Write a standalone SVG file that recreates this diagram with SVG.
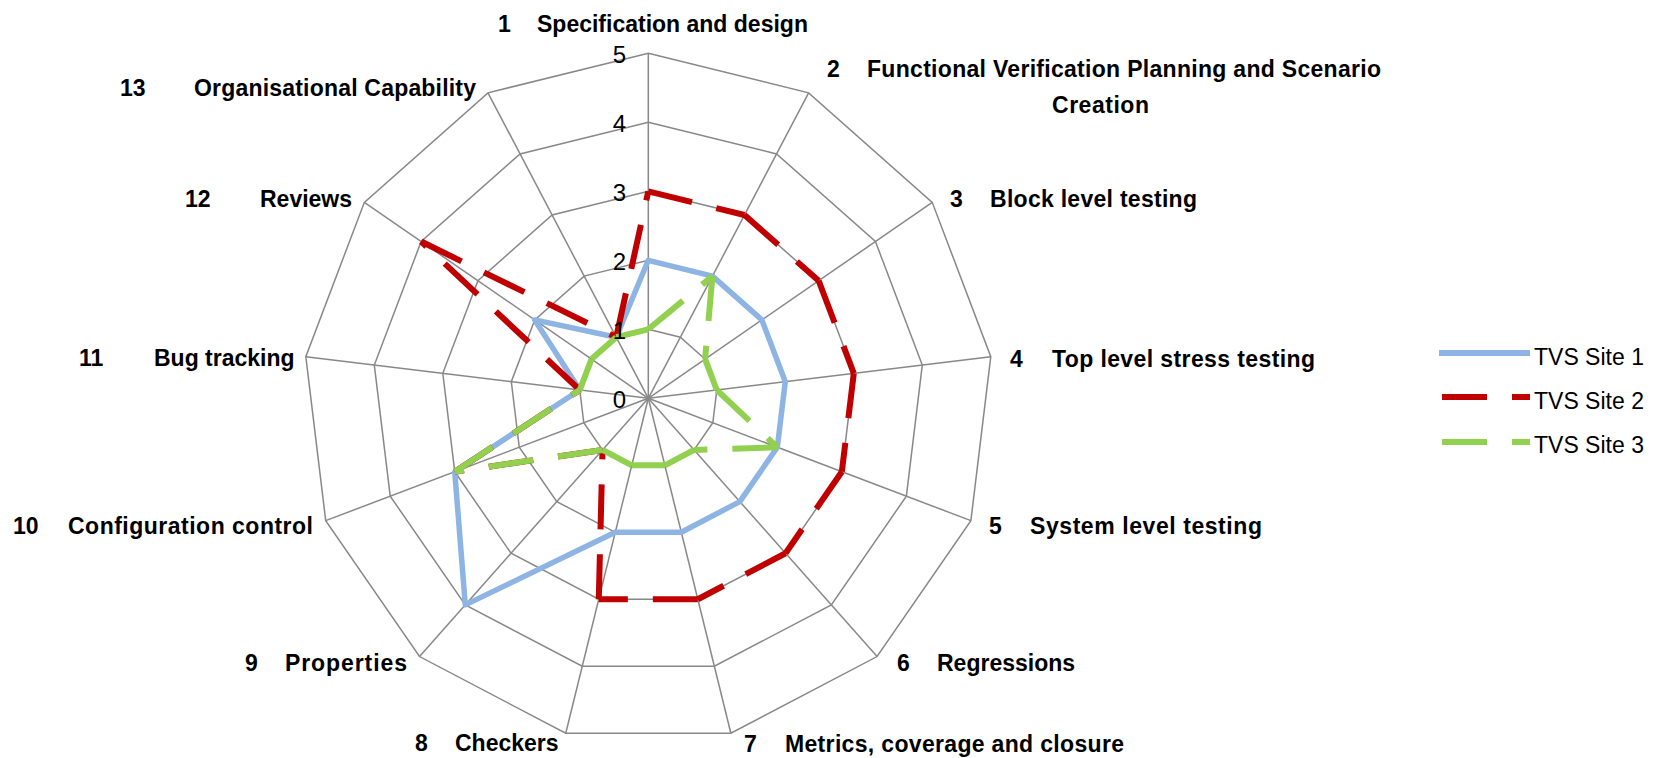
<svg xmlns="http://www.w3.org/2000/svg" width="1653" height="758" viewBox="0 0 1653 758">
<style>
.grid{fill:none;stroke:#888888;stroke-width:1.5;stroke-linejoin:miter}
.spoke{stroke:#888888;stroke-width:1.5}
.s1{fill:none;stroke:#8DB4E2;stroke-width:5.5;stroke-linejoin:round}
.s2{stroke:#C00000;stroke-width:6;stroke-dasharray:45 25;stroke-linecap:butt}
.s3{stroke:#92D050;stroke-width:6;stroke-dasharray:45 25;stroke-linecap:butt}
.cat{font-family:"Liberation Sans",Arial,sans-serif;font-weight:bold;font-size:23px;fill:#000}
.val{font-family:"Liberation Sans",Arial,sans-serif;font-size:24px;fill:#000;text-anchor:end}
.leg{font-family:"Liberation Sans",Arial,sans-serif;font-size:23px;fill:#000}
</style>
<rect width="1653" height="758" fill="#ffffff"/>
<g id="grid" transform="translate(648.3 398.3)">
<polygon class="grid" points="0,-69 32.07,-61.10 56.79,-39.20 68.50,-8.32 64.52,24.47 45.76,51.65 16.51,67.00 -16.51,67.00 -45.76,51.65 -64.52,24.47 -68.50,-8.32 -56.79,-39.20 -32.07,-61.10"/>
<polygon class="grid" points="0,-138 64.13,-122.19 113.57,-78.39 136.99,-16.63 129.03,48.93 91.51,103.29 33.03,133.99 -33.03,133.99 -91.51,103.29 -129.03,48.93 -136.99,-16.63 -113.57,-78.39 -64.13,-122.19"/>
<polygon class="grid" points="0,-207 96.20,-183.29 170.36,-117.59 205.49,-24.95 193.55,73.40 137.27,154.94 49.54,200.98 -49.54,200.98 -137.27,154.94 -193.55,73.40 -205.49,-24.95 -170.36,-117.59 -96.20,-183.29"/>
<polygon class="grid" points="0,-276 128.26,-244.39 227.14,-156.78 273.99,-33.27 258.07,97.87 183.02,206.59 66.05,267.98 -66.05,267.98 -183.02,206.59 -258.07,97.87 -273.99,-33.27 -227.14,-156.78 -128.26,-244.39"/>
<polygon class="grid" points="0,-345 160.33,-305.48 283.93,-195.98 342.48,-41.59 322.58,122.34 228.78,258.24 82.57,334.97 -82.57,334.97 -228.78,258.24 -322.58,122.34 -342.48,-41.59 -283.93,-195.98 -160.33,-305.48"/>
<line class="spoke" x1="0" y1="0" x2="0" y2="-345"/>
<line class="spoke" x1="0" y1="0" x2="160.33" y2="-305.48"/>
<line class="spoke" x1="0" y1="0" x2="283.93" y2="-195.98"/>
<line class="spoke" x1="0" y1="0" x2="342.48" y2="-41.59"/>
<line class="spoke" x1="0" y1="0" x2="322.58" y2="122.34"/>
<line class="spoke" x1="0" y1="0" x2="228.78" y2="258.24"/>
<line class="spoke" x1="0" y1="0" x2="82.57" y2="334.97"/>
<line class="spoke" x1="0" y1="0" x2="-82.57" y2="334.97"/>
<line class="spoke" x1="0" y1="0" x2="-228.78" y2="258.24"/>
<line class="spoke" x1="0" y1="0" x2="-322.58" y2="122.34"/>
<line class="spoke" x1="0" y1="0" x2="-342.48" y2="-41.59"/>
<line class="spoke" x1="0" y1="0" x2="-283.93" y2="-195.98"/>
<line class="spoke" x1="0" y1="0" x2="-160.33" y2="-305.48"/>
</g>
<g id="connectors" transform="translate(648.3 398.3)">
<polygon id="series-site1" class="s1" points="0,-138 64.13,-122.19 113.57,-78.39 136.99,-16.63 129.03,48.93 91.51,103.29 33.03,133.99 -33.03,133.99 -183.02,206.59 -193.55,73.40 -68.50,-8.32 -113.57,-78.39 -32.07,-61.10"/>
<g id="series-site2" class="s2">
<line x1="0" y1="-207" x2="96.20" y2="-183.29"/>
<line x1="96.20" y1="-183.29" x2="170.36" y2="-117.59"/>
<line x1="170.36" y1="-117.59" x2="205.49" y2="-24.95"/>
<line x1="205.49" y1="-24.95" x2="193.55" y2="73.40"/>
<line x1="193.55" y1="73.40" x2="137.27" y2="154.94"/>
<line x1="137.27" y1="154.94" x2="49.54" y2="200.98"/>
<line x1="49.54" y1="200.98" x2="-49.54" y2="200.98"/>
<line x1="-49.54" y1="200.98" x2="-45.76" y2="51.65"/>
<line x1="-45.76" y1="51.65" x2="-193.55" y2="73.40"/>
<line x1="-193.55" y1="73.40" x2="-68.50" y2="-8.32"/>
<line x1="-68.50" y1="-8.32" x2="-227.14" y2="-156.78"/>
<line x1="-227.14" y1="-156.78" x2="-32.07" y2="-61.10"/>
<line x1="-32.07" y1="-61.10" x2="0" y2="-207"/>
</g>
<g id="series-site3" class="s3">
<line x1="0" y1="-69" x2="64.13" y2="-122.19"/>
<line x1="64.13" y1="-122.19" x2="56.79" y2="-39.20"/>
<line x1="56.79" y1="-39.20" x2="68.50" y2="-8.32"/>
<line x1="68.50" y1="-8.32" x2="129.03" y2="48.93"/>
<line x1="129.03" y1="48.93" x2="45.76" y2="51.65"/>
<line x1="45.76" y1="51.65" x2="16.51" y2="67.00"/>
<line x1="16.51" y1="67.00" x2="-16.51" y2="67.00"/>
<line x1="-16.51" y1="67.00" x2="-45.76" y2="51.65"/>
<line x1="-45.76" y1="51.65" x2="-193.55" y2="73.40"/>
<line x1="-193.55" y1="73.40" x2="-68.50" y2="-8.32"/>
<line x1="-68.50" y1="-8.32" x2="-56.79" y2="-39.20"/>
<line x1="-56.79" y1="-39.20" x2="-32.07" y2="-61.10"/>
<line x1="-32.07" y1="-61.10" x2="0" y2="-69"/>
</g>
</g>
<g id="scale">
<text class="val" x="626" y="408">0</text>
<text class="val" x="626" y="339">1</text>
<text class="val" x="626" y="270">2</text>
<text class="val" x="626" y="201">3</text>
<text class="val" x="626" y="132">4</text>
<text class="val" x="626" y="63">5</text>
</g>
<g id="axis1"><text class="cat" y="32"><tspan x="498">1</tspan><tspan x="537">Specification and design</tspan></text></g>
<g id="axis2"><text class="cat" y="77"><tspan x="827">2</tspan><tspan x="867" textLength="514" lengthAdjust="spacing">Functional Verification Planning and Scenario</tspan></text><text class="cat" x="1052" y="113" textLength="97" lengthAdjust="spacing">Creation</text></g>
<g id="axis3"><text class="cat" y="207"><tspan x="950">3</tspan><tspan x="990" textLength="207" lengthAdjust="spacing">Block level testing</tspan></text></g>
<g id="axis4"><text class="cat" y="367"><tspan x="1010">4</tspan><tspan x="1052" textLength="263" lengthAdjust="spacing">Top level stress testing</tspan></text></g>
<g id="axis5"><text class="cat" y="534"><tspan x="989">5</tspan><tspan x="1030" textLength="232" lengthAdjust="spacing">System level testing</tspan></text></g>
<g id="axis6"><text class="cat" y="671"><tspan x="897">6</tspan><tspan x="937">Regressions</tspan></text></g>
<g id="axis7"><text class="cat" y="752"><tspan x="744">7</tspan><tspan x="785" textLength="339" lengthAdjust="spacing">Metrics, coverage and closure</tspan></text></g>
<g id="axis8"><text class="cat" y="751"><tspan x="415">8</tspan><tspan x="455">Checkers</tspan></text></g>
<g id="axis9"><text class="cat" y="671"><tspan x="245">9</tspan><tspan x="285" textLength="122" lengthAdjust="spacing">Properties</tspan></text></g>
<g id="axis10"><text class="cat" y="534"><tspan x="13">10</tspan><tspan x="68" textLength="245" lengthAdjust="spacing">Configuration control</tspan></text></g>
<g id="axis11"><text class="cat" y="366"><tspan x="79">11</tspan><tspan x="154">Bug tracking</tspan></text></g>
<g id="axis12"><text class="cat" y="207"><tspan x="185">12</tspan><tspan x="260">Reviews</tspan></text></g>
<g id="axis13"><text class="cat" y="96"><tspan x="120">13</tspan><tspan x="194" textLength="282" lengthAdjust="spacing">Organisational Capability</tspan></text></g>
<g id="legend">
<line x1="1439" y1="353" x2="1530" y2="353" stroke="#8DB4E2" stroke-width="6"/>
<line x1="1442" y1="397" x2="1530" y2="397" class="s2"/>
<line x1="1442" y1="442" x2="1530" y2="442" class="s3"/>
<text class="leg" x="1534" y="365">TVS Site 1</text>
<text class="leg" x="1534" y="409">TVS Site 2</text>
<text class="leg" x="1534" y="453">TVS Site 3</text>
</g>
</svg>
